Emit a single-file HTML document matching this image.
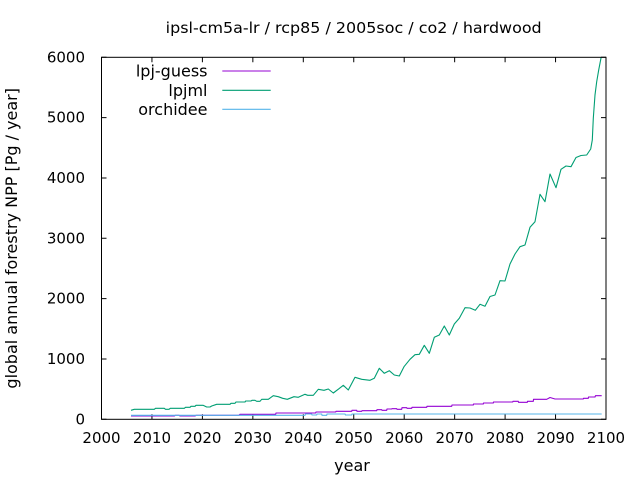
<!DOCTYPE html>
<html>
<head>
<meta charset="utf-8">
<style>
  html, body { margin: 0; padding: 0; background: #ffffff; }
  svg { display: block; }
  text { font-family: "DejaVu Sans", "Liberation Sans", sans-serif; font-size: 15px; fill: #000; }
  .big { font-size: 16px; }
</style>
</head>
<body>
<svg width="640" height="480" viewBox="0 0 640 480" xmlns="http://www.w3.org/2000/svg">
  <rect x="0" y="0" width="640" height="480" fill="#ffffff"/>

  <!-- title -->
  <text x="353.7" y="33" text-anchor="middle" textLength="376" lengthAdjust="spacingAndGlyphs">ipsl-cm5a-lr / rcp85 / 2005soc / co2 / hardwood</text>

  <!-- axis labels -->
  <text class="big" x="352" y="471" text-anchor="middle">year</text>
  <text class="big" transform="translate(17,238.3) rotate(-90)" text-anchor="middle">global annual forestry NPP [Pg / year]</text>

  <!-- y tick labels -->
  <g text-anchor="end">
    <text x="85" y="424.3">0</text>
    <text x="85" y="364">1000</text>
    <text x="85" y="303.6">2000</text>
    <text x="85" y="243.3">3000</text>
    <text x="85" y="183">4000</text>
    <text x="85" y="122.6">5000</text>
    <text x="85" y="62.3">6000</text>
  </g>

  <!-- x tick labels -->
  <g text-anchor="middle">
    <text x="101.5" y="443">2000</text>
    <text x="151.95" y="443">2010</text>
    <text x="202.4" y="443">2020</text>
    <text x="252.85" y="443">2030</text>
    <text x="303.3" y="443">2040</text>
    <text x="353.75" y="443">2050</text>
    <text x="404.2" y="443">2060</text>
    <text x="454.65" y="443">2070</text>
    <text x="505.1" y="443">2080</text>
    <text x="555.55" y="443">2090</text>
    <text x="606" y="443">2100</text>
  </g>

  <!-- ticks -->
  <g stroke="#000" stroke-width="1" fill="none">
    <path d="M101.5 419.3h5 M101.5 359h5 M101.5 298.6h5 M101.5 238.3h5 M101.5 178h5 M101.5 117.6h5 M101.5 57.3h5"/>
    <path d="M606 419.3h-5 M606 359h-5 M606 298.6h-5 M606 238.3h-5 M606 178h-5 M606 117.6h-5 M606 57.3h-5"/>
    <path d="M151.95 419.3v-5 M202.4 419.3v-5 M252.85 419.3v-5 M303.3 419.3v-5 M353.75 419.3v-5 M404.2 419.3v-5 M454.65 419.3v-5 M505.1 419.3v-5 M555.55 419.3v-5"/>
    <path d="M151.95 57.3v5 M202.4 57.3v5 M252.85 57.3v5 M303.3 57.3v5 M353.75 57.3v5 M404.2 57.3v5 M454.65 57.3v5 M505.1 57.3v5 M555.55 57.3v5"/>
  </g>

  <defs>
    <clipPath id="plotclip">
      <rect x="101.5" y="57.3" width="504.5" height="362"/>
    </clipPath>
  </defs>

  <g clip-path="url(#plotclip)" fill="none" stroke-width="1.1" stroke-linejoin="round">
    <!-- lpj-guess -->
    <polyline stroke="#9400d3" points="131,416 174.3,416 175.3,415.3 179,415.3 180,416 195,416 196,415.3 239,415.3 240,414.3 275.7,414.3 276,413 315.7,413 316,412 335.7,412 336,411.3 351.7,411.3 352,410.3 356.7,410.3 357,411.3 361.7,411.3 362,410.7 376.7,410.7 377,409.7 381.7,409.7 382,410.3 386.7,410.3 387,409 391.7,409 392,408.7 396.7,408.7 397,409.3 401.7,409.3 402,407.7 406.7,407.7 407,408.3 411.7,408.3 412,407.3 426.7,407.3 427,406.3 451.7,406.3 452,405 473.3,405 473.5,404 483.3,404 483.5,403 493.3,403 493.5,402 512.7,402 513,401.3 518.3,401.3 518.5,402.3 527.3,402.3 527.5,401.3 533.3,401.3 533.5,399.3 546.7,399.3 550,397.5 555,399 583.3,399 583.5,398.3 588.3,398.3 588.5,397 595,397 595.5,395.7 601.7,395.7"/>
    <!-- lpjml -->
    <polyline stroke="#009e73" points="131,410.3 134.3,409.3 154.3,409.3 155.5,408.3 164.3,408.3 165.5,409.3 169,409.3 170.3,408.3 184.3,408.3 185.5,407.3 190,407.3 191,406.3 195,406.3 196,405.3 203,405.3 206.7,407 210,407 211.7,406 216.7,404.3 230,404.3 231,403.3 235,403.3 236,402 245,402 245.7,401 251,401 252,400.3 255,400.3 256.7,401.3 260,401.3 261.7,399.3 268.3,399.3 273.3,395.7 278.3,396.7 282.7,398.3 287.3,399.3 294,396.7 298.3,397.3 305,394.3 307.7,395.3 313.3,395.3 318.3,389.3 324,390.3 328.3,389 333.3,393 339,388.7 343.3,385.3 348.3,390 355,377.3 361.7,379.3 370,380.3 374.3,378.3 379.3,368.3 384.3,373.3 389.3,370.7 394.3,375 399.3,376 404,366.7 410,359.3 415,354.7 419.3,354.3 424.3,345.3 429.3,353.3 434.3,337.3 439.3,335 444.3,326 449.3,335 454.3,324 459.3,318.3 465,307.7 470,308 475.3,310.3 480,304.3 485,306.3 490,296.5 495,295 500,280.7 505,281 510,264 515,254 520,246.7 525,245 530,227.3 535,221.7 540,194.3 545,201.7 550,174 556,187.7 561,169.3 566,166 571,166.7 576,157.5 581,155.5 586.7,155 590.7,149 592.3,140 593.3,118.3 595,95 596.7,81.7 598.7,70 601,58 602,55"/>
    <!-- orchidee -->
    <polyline stroke="#56b4e9" points="131,415.3 305,415.3 305.5,414 311.7,414 312,415 316.7,415 317,414 321.7,414 322,415.3 326.7,415.3 327,414 345,414 345.5,415 351.7,415 352,414 601.7,414"/>
  </g>

  <!-- frame -->
  <rect x="101.5" y="57.3" width="504.5" height="362" fill="none" stroke="#000" stroke-width="1"/>

  <!-- legend -->
  <g text-anchor="end" class="big">
    <text class="big" x="207.5" y="76.5">lpj-guess</text>
    <text class="big" x="207.5" y="95.8">lpjml</text>
    <text class="big" x="207.5" y="114.8">orchidee</text>
  </g>
  <g stroke-width="1.1">
    <line x1="222.3" y1="71" x2="270.7" y2="71" stroke="#9400d3"/>
    <line x1="222.3" y1="90.3" x2="270.7" y2="90.3" stroke="#009e73"/>
    <line x1="222.3" y1="109.3" x2="270.7" y2="109.3" stroke="#56b4e9"/>
  </g>
</svg>
</body>
</html>
